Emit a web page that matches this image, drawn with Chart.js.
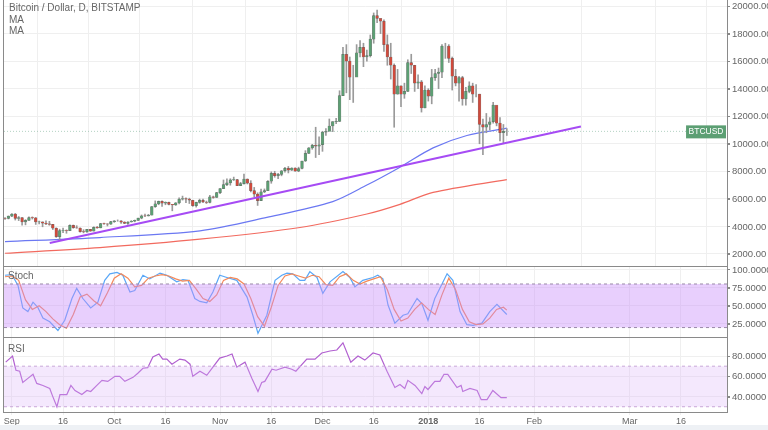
<!DOCTYPE html>
<html>
<head>
<meta charset="utf-8">
<script src="https://cdn.jsdelivr.net/npm/chart.js@4.4.0/dist/chart.umd.min.js"></script>
<style>
  body { margin: 0; background: #fff; font-family: "Liberation Sans", Arial, sans-serif; }
  #wrap { position: relative; width: 768px; height: 430px; overflow: hidden; }
  .pane { position: absolute; left: 0; width: 768px; }
  .lbl { position: absolute; font-size: 10px; color: #666; line-height: 12px; }
  .hl { position: absolute; left: 3px; width: 724px; height: 1px; background: #8a8a8a; }
</style>
</head>
<body>
<div id="wrap">
  <div class="pane" style="top:0;height:267px"><canvas id="main"></canvas></div>
  <div class="pane" style="top:267px;height:70px"><canvas id="stoch"></canvas></div>
  <div class="pane" style="top:337px;height:93px"><canvas id="rsi"></canvas></div>
  <div class="hl" style="top:266px"></div>
  <div class="hl" style="top:337px"></div>
  <div class="hl" style="top:412px"></div>
  <div style="position:absolute;left:3px;top:0;width:1px;height:413px;background:#8a8a8a"></div>
  <div style="position:absolute;left:0;top:425px;width:768px;height:5px;background:#eef1f5"></div>
  <div class="lbl" style="left:9px;top:2px">Bitcoin / Dollar, D, BITSTAMP</div>
  <div class="lbl" style="left:9px;top:14px">MA</div>
  <div class="lbl" style="left:9px;top:25px">MA</div>
  <div class="lbl" style="left:8px;top:270px">Stoch</div>
  <div class="lbl" style="left:8px;top:343px">RSI</div>
</div>
<script>
// x axis unit = days since 1 Sep 2017
const X_MIN = -2.3, X_MAX = 209.5;
const tickDays   = [0, 15, 30, 45, 61, 76, 91, 106, 122, 137, 153, 181, 196];
const tickLabels = ["Sep", "16", "Oct", "16", "Nov", "16", "Dec", "16", "2018", "16", "Feb", "Mar", "16"];

// daily candles, first one = 29 Aug 2017 (day -3)
const firstDay = -3;
const firstOpen = 4390;
const closes = [4580,4570,4740,
  4900,4580,4630,4330,4440,4640,4620,4320,4330,4230,4180,4140,3870,3250,3690,3700,3690,4080,3900,3880,3620,3600,3780,3660,3930,3890,4200,4190,4160,4340,
  4400,4400,4310,4220,4320,4370,4440,4600,4770,4760,4820,5430,5640,5820,5690,5750,5600,5560,5710,5980,6010,5980,5900,5500,5740,5890,5770,5740,6150,6110,6450,
  6740,7030,7160,7380,7400,6960,7100,7440,7140,6600,6340,5860,6510,6600,7280,7850,7690,7780,8040,8210,8090,8240,8010,8200,8750,9300,9700,9880,9830,9930,
  10850,10900,11290,11610,11620,13500,16500,16000,14830,14830,16600,17000,16300,16400,17600,19300,19100,18900,17200,16300,15700,13600,14200,13600,13800,15900,15700,14400,14500,12600,13900,
  13450,14800,15100,15200,17100,17100,16200,14900,14400,14800,13250,13800,14200,13600,13600,11400,11200,11400,11600,12800,11500,10800,10900,10900];
const highs = [4640,4640,4760,
  4930,4940,4720,4640,4490,4690,4690,4650,4380,4330,4400,4370,4150,3890,3800,3880,3750,4120,4100,4050,3900,3760,3790,3780,3970,4000,4220,4240,4200,4360,
  4420,4470,4430,4340,4350,4420,4460,4610,4830,4900,4870,5440,5850,5840,5850,5780,5770,5590,5730,6070,6200,6080,6050,5900,5760,5980,5990,5840,6260,6200,6470,
  6750,7370,7450,7460,7580,7410,7200,7790,7450,7320,6830,6440,6710,6720,7320,7960,8000,7850,8060,8290,8350,8260,8260,8300,8750,9500,9720,9960,11200,10500,
  10900,11100,11800,11600,11850,13850,17000,17200,16300,15700,17200,17500,17300,16800,17900,19500,19700,19000,19000,17900,17300,15800,15400,14200,14400,16100,16500,15700,15000,14600,14200,
  14000,15400,15400,15500,17200,17300,17200,16300,15400,14900,14900,14100,14500,14400,14300,13600,11800,12200,11900,13000,12700,11900,11400,11100];
const lows = [4300,4500,4540,
  4700,4460,4420,4080,4110,4430,4530,4140,4170,3970,4130,4080,3770,3200,2970,3550,3500,3700,3860,3860,3580,3530,3560,3640,3660,3860,3890,4140,4030,4150,
  4290,4370,4210,4200,4140,4310,4330,4440,4550,4710,4750,4820,5380,5570,5450,5570,5550,5130,5520,5630,5910,5720,5660,5450,5400,5680,5730,5660,5710,6040,6100,
  6370,6750,6950,6990,7330,6950,6960,7070,7080,6500,6150,5520,5860,6450,6610,7130,7570,7460,7670,7930,7880,8060,8000,7970,8170,8710,9300,9600,9000,9200,
  9450,10600,10950,10880,11450,11620,13500,13700,13200,13000,14900,16300,15600,16000,16300,17300,18800,18000,16700,15700,14700,11200,13600,12700,13300,13800,15100,13800,14000,12300,12600,
  13100,12900,14600,14000,14800,16200,15900,13900,14200,13100,12800,12800,13700,13000,13400,10000,9200,10800,11000,11500,11300,10200,10000,10600];

// moving averages (day, value)
const ma1Days = [-2, 25.8, 55.1, 74.7, 94, 104, 113.7, 123.4, 133.3, 145];
const ma1Vals = [2900, 3190, 3680, 4650, 5800, 7000, 8300, 9700, 10600, 11130];
const ma2Days = [-2, 25.8, 55.1, 84.4, 104, 113.7, 123.4, 145];
const ma2Vals = [2050, 2460, 3070, 3920, 4900, 5600, 6470, 7400];
const trendDays = [11.1, 166.7];
const trendVals = [2800, 11260];
const lastPrice = 10900;

const priceTicks = [2000,4000,6000,8000,10000,12000,14000,16000,18000,20000];

// Stoch %K / %D
const kDays = [-2,0,1.8,3.2,4.7,6.2,7.6,9.1,11.1,13.5,15.5,17.6,19,20.8,23.1,25.2,27.2,28.7,30.8,32.5,34.6,36,38.4,40.4,43.4,45.4,48.3,50.1,51.6,53.6,55.1,57.1,58.9,60.9,63,65.9,68.9,70.6,72.1,74.7,77.1,79.1,80.6,82.3,84.4,85.8,87.3,89.4,91.1,93.2,97,99,100.5,102.8,105.8,107.2,108.7,110.2,112.2,114.6,116,118.7,120.1,121.9,123.9,127.5,129.2,131.3,133.3,135.1,137.7,140,142.1,145];
const kVals = [92,93,78,47,42,55,48,33,28,16,30,60,74,60,47,55,85,94,96,92,69,71,92,87,95,92,83,86,85,60,56,54,69,92,89,85,62,37,12,37,85,92,95,94,85,85,97,89,67,83,97,89,76,85,89,92,87,51,26,37,39,60,53,30,60,94,85,42,24,23,26,42,52,38];
const dDays = [-2,0,2,4,6,8,10,12,14,16,18,20,22,24,26,28,30,32,34,36,38,40,42,44,46,48,50,52,54,56,58,60,62,64,66,68,70,72,74,76,78,80,82,84,86,88,90,92,94,96,98,100,102,104,106,108,110,112,114,116,118,120,122,124,126,128,130,132,134,136,138,140,142,144,145];
const dVals = [90,91,85,58,45,50,42,32,24,19,38,62,66,57,50,68,88,94,88,76,78,88,91,93,91,87,84,85,73,60,56,65,85,89,87,80,60,35,22,48,78,91,94,91,88,92,90,79,78,90,94,85,80,84,87,90,72,45,29,33,45,54,45,38,65,88,72,45,28,24,25,33,45,48,44];

// RSI
const rsiDays = [-1.8,0.2,1.2,2.3,3.2,4.7,6.2,7.3,9.1,11.1,12,13.2,14.1,16.1,17.3,18.5,20.5,22,23.1,24.9,26.4,28.1,30.2,31.6,33.1,35.5,36.9,38.4,39.8,41.3,43.1,44.2,45.4,46.9,49.2,50.7,52.2,53,55.1,57.1,58.9,60.9,63,64.5,65.9,68.3,70.3,72.1,73.2,74.1,76.2,77.4,80,82,83.2,86.4,88.8,90.8,93.2,95.2,97,99.3,101.4,103.4,105.8,107.8,109.9,112.2,113.7,115.1,116,118.1,120.1,121,121.9,123.9,125.4,126.6,127.7,130.4,131.6,132.1,134.2,136.3,137.5,139.2,140.9,143.3,145];
const rsiVals = [74,80,66,65,54,58,62,53,51,48,40,30,42,42,51,46,42,46,45,51,56,55,60,60,55,59,63,68,68.5,79,82,77,77,72,77,76,72,60,65,61,69,78,80,82,69,74,58,45,54,55,67,66,69,67,65,77,77,83,85,86,93,74,80,76,83,81,65,49,52,48,56,51,43,50,47,55,55,62,62,49,51,45,48,46,37,37,46,39,39];

const pts = (xs, ys) => xs.map((x, i) => ({ x, y: ys[i] }));
const span = v => [{ x: X_MIN, y: v }, { x: X_MAX, y: v }];

const GREEN = "#5c9f73", RED = "#cf4a3c";
const opens = closes.map((c, i) => i === 0 ? firstOpen : closes[i - 1]);
const bodies = closes.map((c, i) => ({ x: firstDay + i, y: [opens[i], c] }));
const wicks = closes.map((c, i) => ({ x: firstDay + i, y: [lows[i], highs[i]] }));
const bodyColors = closes.map((c, i) => c >= opens[i] ? GREEN : RED);

const FONT = "Liberation Sans, Arial, sans-serif";
const tickFont = { size: 9, family: FONT };
const gridColor = "#efefef";

function xScale(showTicks) {
  return {
    type: "linear", min: X_MIN, max: X_MAX, offset: false,
    afterBuildTicks: s => { s.ticks = tickDays.map(v => ({ value: v })); },
    afterFit: s => { s.height = showTicks ? 18 : 0; },
    grid: { color: gridColor, drawTicks: showTicks, tickLength: 3 },
    border: { display: false },
    ticks: {
      display: showTicks, maxRotation: 0, autoSkip: false, padding: 1, color: "#666",
      font: ctx => ctx.tick && ctx.tick.value === 122 ? { ...tickFont, weight: "bold" } : tickFont,
      callback: v => tickLabels[tickDays.indexOf(v)],
    },
  };
}

// y labels are painted by the yLabels plugin so they add no padding to the plot
function yScale(min, max, ticks, decimals) {
  return {
    position: "right", min, max, decimals,
    afterBuildTicks: s => { s.ticks = ticks.map(v => ({ value: v })); },
    afterFit: s => { s.width = 41; },
    grid: { color: gridColor, tickLength: 3, tickColor: "#888" },
    border: { color: "#8a8a8a" },
    ticks: { display: false },
  };
}

const yLabels = {
  id: "yLabels",
  afterDraw(chart) {
    const { ctx, scales, chartArea } = chart;
    const s = scales.y;
    ctx.save();
    ctx.font = "9.5px " + FONT;
    ctx.textBaseline = "middle";
    s.ticks.forEach(t => {
      const y = s.getPixelForValue(t.value);
      ctx.fillStyle = "#888";
      ctx.fillRect(chartArea.right, Math.round(y), 3, 1);
      ctx.fillStyle = "#666";
      ctx.fillText(t.value.toFixed(s.options.decimals), chartArea.right + 5, y + 0.5);
    });
    ctx.restore();
  },
};

const baseOpts = {
  responsive: true, maintainAspectRatio: false, animation: false,
  layout: { padding: { left: 4, right: 0, top: 0, bottom: 0 } },
  plugins: { legend: { display: false }, tooltip: { enabled: false } },
  elements: { point: { radius: 0 } },
};

// price tag on right edge of the plot
const tagPlugin = {
  id: "priceTag",
  afterDraw(chart) {
    const { ctx, scales, chartArea } = chart;
    const y = scales.y.getPixelForValue(lastPrice);
    ctx.save();
    ctx.font = "8.5px " + FONT;
    const w = ctx.measureText("BTCUSD").width + 5;
    ctx.fillStyle = "#5c9f73";
    ctx.fillRect(chartArea.right - w - 1, y - 6, w, 13);
    ctx.fillStyle = "#fff";
    ctx.textBaseline = "middle";
    ctx.fillText("BTCUSD", chartArea.right - w + 1.5, y + 0.5);
    ctx.restore();
  },
};

new Chart(document.getElementById("main"), {
  type: "bar",
  data: {
    datasets: [
      { type: "line", data: span(lastPrice), borderColor: "rgba(130,180,155,0.6)", borderWidth: 1, borderDash: [1, 2], order: 5 },
      { type: "line", data: pts(ma2Days, ma2Vals), borderColor: "#f26a5f", borderWidth: 1.2, tension: 0.3, order: 4 },
      { type: "line", data: pts(ma1Days, ma1Vals), borderColor: "#6b78f2", borderWidth: 1.2, tension: 0.3, order: 3 },
      { data: wicks, backgroundColor: "#9a9a9a", barThickness: 1, grouped: false, order: 2 },
      { data: bodies, backgroundColor: bodyColors, borderColor: "rgba(40,40,40,0.55)", borderWidth: 0.5, borderSkipped: false, barThickness: 2.8, grouped: false, order: 1 },
      { type: "line", data: pts(trendDays, trendVals), borderColor: "#a64bf4", borderWidth: 2, order: 0 },
    ],
  },
  options: { ...baseOpts, scales: { x: xScale(false), y: yScale(1050, 20440, priceTicks, 2) } },
  plugins: [tagPlugin, yLabels],
});

new Chart(document.getElementById("stoch"), {
  type: "line",
  data: {
    datasets: [
      { data: span(80), borderColor: "#9a8aa8", borderWidth: 1, borderDash: [3, 3] },
      { data: span(20), borderColor: "#9a8aa8", borderWidth: 1, borderDash: [3, 3], fill: "-1", backgroundColor: "rgba(200,140,250,0.42)" },
      { data: pts(dDays, dVals), borderColor: "#f4895a", borderWidth: 1.2 },
      { data: pts(kDays, kVals), borderColor: "#59a7f7", borderWidth: 1.2 },
    ],
  },
  options: { ...baseOpts, scales: { x: xScale(false), y: yScale(7, 103.4, [25, 50, 75, 100], 4) } },
  plugins: [yLabels],
});

new Chart(document.getElementById("rsi"), {
  type: "line",
  data: {
    datasets: [
      { data: span(70), borderColor: "#c9a8d8", borderWidth: 1, borderDash: [3, 3] },
      { data: span(30), borderColor: "#c9a8d8", borderWidth: 1, borderDash: [3, 3], fill: "-1", backgroundColor: "rgba(220,180,250,0.3)" },
      { data: pts(rsiDays, rsiVals), borderColor: "#b160d0", borderWidth: 1.2 },
    ],
  },
  options: { ...baseOpts, scales: { x: xScale(true), y: yScale(24.8, 98.8, [40, 60, 80], 4) } },
  plugins: [yLabels],
});
</script>
</body>
</html>
